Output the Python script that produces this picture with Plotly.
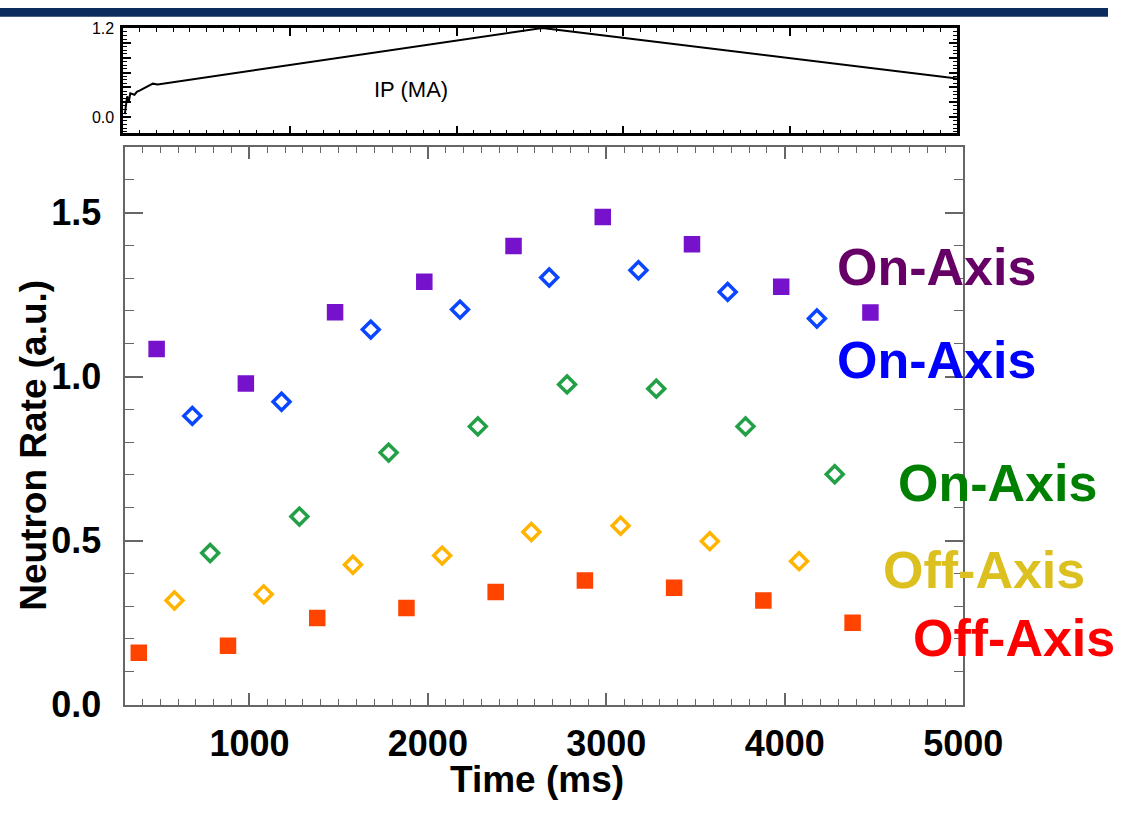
import plotly.graph_objects as go

# ---------------- data ----------------
purple_x = [480, 980, 1480, 1980, 2480, 2980, 3480, 3980, 4480]
purple_y = [1.084, 0.979, 1.196, 1.289, 1.398, 1.486, 1.403, 1.274, 1.195]

blue_x = [680, 1180, 1680, 2180, 2680, 3180, 3680, 4180]
blue_y = [0.880, 0.923, 1.143, 1.204, 1.302, 1.324, 1.258, 1.177]

green_x = [780, 1280, 1780, 2280, 2780, 3280, 3780, 4280]
green_y = [0.462, 0.573, 0.768, 0.848, 0.976, 0.963, 0.848, 0.702]

yellow_x = [580, 1080, 1580, 2080, 2580, 3080, 3580, 4080]
yellow_y = [0.317, 0.336, 0.426, 0.454, 0.526, 0.545, 0.498, 0.437]

red_x = [380, 880, 1380, 1880, 2380, 2880, 3380, 3880, 4380]
red_y = [0.158, 0.179, 0.264, 0.294, 0.343, 0.378, 0.356, 0.317, 0.249]

ip_t = [10, 24, 33, 43, 68, 82, 101, 130, 149, 178, 207, 2514, 5000]
ip_v = [0.04, 0.28, 0.20, 0.32, 0.30, 0.34, 0.36, 0.39, 0.41, 0.45, 0.44, 1.20, 0.52]

x_ticks = [1000, 2000, 3000, 4000, 5000]
y_ticks = [0.0, 0.5, 1.0, 1.5]

labels = ["On-Axis", "On-Axis", "On-Axis", "Off-Axis", "Off-Axis"]

# ---------------- figure ----------------
W, H = 1148, 822
fig = go.Figure()

def sq(c):
    return dict(symbol="square", size=15, color=c, line=dict(color=c, width=1.5))

def dm(c):
    return dict(symbol="diamond-open", size=13, color=c, line=dict(color=c, width=3.5))

fig.add_trace(go.Scatter(x=purple_x, y=purple_y, mode="markers", marker=sq("#7712CC"), showlegend=False))
fig.add_trace(go.Scatter(x=blue_x, y=blue_y, mode="markers", marker=dm("#0A46FF"), showlegend=False))
fig.add_trace(go.Scatter(x=green_x, y=green_y, mode="markers", marker=dm("#21A046"), showlegend=False))
fig.add_trace(go.Scatter(x=yellow_x, y=yellow_y, mode="markers", marker=dm("#FFB400"), showlegend=False))
fig.add_trace(go.Scatter(x=red_x, y=red_y, mode="markers", marker=sq("#FF4400"), showlegend=False))

fig.add_trace(go.Scatter(x=ip_t, y=ip_v, mode="lines", line=dict(color="black", width=2),
                         xaxis="x2", yaxis="y2", showlegend=False))

def px_x(p):
    return p / W

def px_y(p):
    return 1 - p / H

tick_font = dict(family="Liberation Sans, Arial, sans-serif", size=36, color="black", weight="bold")
axis_col = "#666666"

fig.update_layout(
    width=W, height=H,
    margin=dict(l=0, r=0, t=0, b=0),
    paper_bgcolor="white", plot_bgcolor="white",
    xaxis=dict(
        domain=[px_x(129), px_x(998)], range=[300, 5000],
        tickvals=x_ticks, ticks="inside", ticklen=12, tickwidth=1.5, tickcolor=axis_col,
        showline=True, linecolor=axis_col, linewidth=2, mirror="ticks",
        showgrid=False, zeroline=False, tickfont=tick_font, ticklabelstandoff=6,
        minor=dict(dtick=100, tick0=0, ticks="inside", ticklen=6, tickwidth=1.2, tickcolor=axis_col, showgrid=False),
        anchor="y",
    ),
    yaxis=dict(
        domain=[px_y(722), px_y(144)], range=[0, 1.7],
        tickvals=y_ticks, tickformat=".1f", ticks="inside", ticklen=18, tickwidth=1.5, tickcolor=axis_col,
        showline=True, linecolor=axis_col, linewidth=2, mirror="ticks",
        showgrid=False, zeroline=False, tickfont=tick_font, ticklabelstandoff=14,
        minor=dict(dtick=0.1, tick0=0, ticks="inside", ticklen=9, tickwidth=1.2, tickcolor=axis_col, showgrid=False),
        anchor="x",
    ),
    xaxis2=dict(
        domain=[px_x(127.6), px_x(991.5)], range=[0, 5000],
        dtick=1000, ticks="inside", ticklen=8, tickwidth=1.5, tickcolor="black",
        showline=True, linecolor="black", linewidth=2.5, mirror="ticks",
        showticklabels=False, showgrid=False, zeroline=False,
        minor=dict(dtick=100, ticks="inside", ticklen=4, tickwidth=1, tickcolor="black", showgrid=False),
        anchor="y2",
    ),
    yaxis2=dict(
        domain=[px_y(130), px_y(20.7)], range=[-0.22, 1.2],
        tickvals=[0, 0.2, 0.4, 0.6, 0.8, 1.0, 1.2], ticktext=["0.0", "", "", "", "", "", "1.2"],
        ticks="inside", ticklen=8, tickwidth=1.5, tickcolor="black",
        showline=True, linecolor="black", linewidth=2.5, mirror="ticks",
        showgrid=False, zeroline=False, ticklabelstandoff=3,
        tickfont=dict(family="Liberation Sans Narrow, Arial Narrow, Liberation Sans, sans-serif", size=16, color="black"),
        minor=dict(dtick=0.05, tick0=0, ticks="inside", ticklen=4, tickwidth=1, tickcolor="black", showgrid=False),
        anchor="x2",
    ),
)

# navy band at top
fig.add_shape(type="rect", xref="paper", yref="paper", x0=0, x1=1, y0=px_y(9), y1=1,
              fillcolor="#0B2C5C", line=dict(width=0), layer="above")

# axis titles
title_font = dict(family="Liberation Sans, Arial, sans-serif", size=37, color="black", weight="bold")
fig.add_annotation(text="Time (ms)", xref="paper", yref="paper", x=px_x(556), y=px_y(800),
                   xanchor="center", yanchor="middle", showarrow=False, font=title_font)
fig.add_annotation(text="Neutron Rate (a.u.)", xref="paper", yref="paper", x=px_x(34), y=px_y(453),
                   xanchor="center", yanchor="middle", showarrow=False, font=title_font, textangle=-90)

fig.add_annotation(text="IP (MA)", xref="paper", yref="paper", x=px_x(426), y=px_y(84),
                   xanchor="center", yanchor="middle", showarrow=False,
                   font=dict(family="Liberation Sans Narrow, Arial Narrow, Liberation Sans, sans-serif", size=22, color="black"))

# series labels
label_colors = ["#660066", "#0000FF", "#008000", "#DCC020", "#FF0000"]
label_left = [865, 865, 928, 913, 944]
label_cy = [264, 361, 488, 579, 649]
for txt, col, lx, cy in zip(labels, label_colors, label_left, label_cy):
    fig.add_annotation(text=txt, xref="paper", yref="paper", x=px_x(lx), y=px_y(cy + 4),
                       xanchor="left", yanchor="middle", showarrow=False,
                       font=dict(family="Liberation Sans, Arial, sans-serif", size=52, color=col, weight="bold"))

fig.write_html(
    "out.html",
    post_script="document.body.style.margin='0';document.body.style.padding='0';"
                "document.documentElement.style.overflow='hidden';document.body.style.overflow='hidden';",
)
